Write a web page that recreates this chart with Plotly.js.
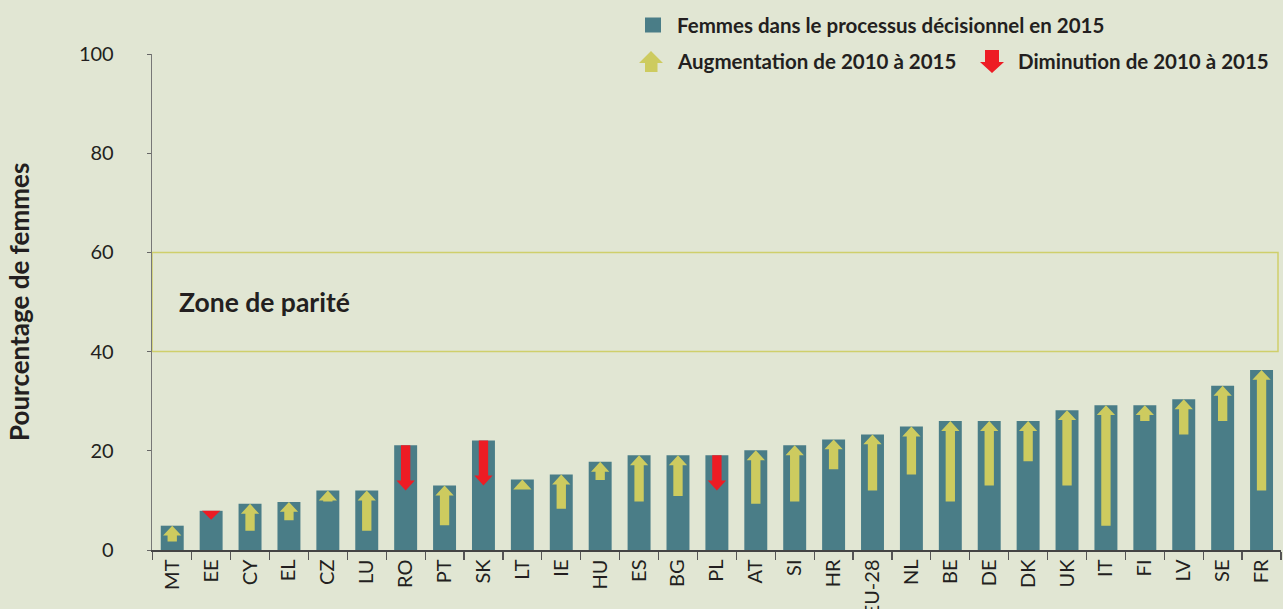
<!DOCTYPE html>
<html>
<head>
<meta charset="utf-8">
<script src="https://cdn.plot.ly/plotly-3.0.1.min.js"></script>
<style>
  html, body { margin: 0; padding: 0; background: #e1e6d3; }
  #chart { width: 1283px; height: 609px; }
</style>
</head>
<body>
<div id="chart"></div>
<script>
// ---- Data ----
const categories = ['MT','EE','CY','EL','CZ','LU','RO','PT','SK','LT','IE','HU','ES','BG','PL','AT','SI','HR','EU-28','NL','BE','DE','DK','UK','IT','FI','LV','SE','FR'];
const women2015 = [4.9,7.9,9.3,9.7,12.0,12.0,21.1,13.0,22.1,14.2,15.2,17.8,19.1,19.1,19.1,20.1,21.1,22.3,23.3,24.9,26.0,26.0,26.0,28.2,29.2,29.2,30.4,33.1,36.3];
const arrowOtherEnd = [1.7,6.1,3.9,6.0,9.8,3.9,12.0,5.0,13.0,12.2,8.3,14.1,9.8,10.9,12.0,9.3,9.8,16.3,12.0,15.2,9.8,13.0,17.9,13.0,4.9,26.0,23.3,26.0,12.0];
const trend = ['up','down','up','up','up','up','down','up','down','up','up','up','up','up','down','up','up','up','up','up','up','up','up','up','up','up','up','up','up'];
const yTicks = [0,20,40,60,80,100];
const parityZone = [40, 60];
const legendLabels = ['Femmes dans le processus décisionnel en 2015','Augmentation de 2010 à 2015','Diminution de 2010 à 2015'];
const yTitle = 'Pourcentage de femmes';
const zoneLabel = 'Zone de parité';

// ---- Style ----
const BG = '#e1e6d3', TEAL = '#4a7d87', YEL = '#cdcb5f', RED = '#ed1c24', TXT = '#231f20';
const FONT = 'Lato, "Open Sans", sans-serif';
const M = {l: 152, r: 2, t: 54, b: 59};
const W = 1283, H = 609;
const PW = W - M.l - M.r, PH = H - M.t - M.b;
const px2x = p => (p - M.l) / PW;
const px2y = p => (H - M.b - p) / PH;

// arrow geometry (category units / data units)
const SHAFT = 0.12, HEAD = 0.235, HEADH = 2.0;

function arrowPath(i, from, to) {
  const dir = to > from ? 1 : -1;
  const len = Math.abs(to - from);
  const hh = Math.min(HEADH, len);
  const base = to - dir * hh;
  if (len <= HEADH) {
    return `M${i-HEAD},${from} L${i+HEAD},${from} L${i},${to} Z`;
  }
  return `M${i-SHAFT},${from} L${i+SHAFT},${from} L${i+SHAFT},${base} L${i+HEAD},${base} L${i},${to} L${i-HEAD},${base} L${i-SHAFT},${base} Z`;
}

const shapes = [];
shapes.push({type:'rect', xref:'paper', yref:'y', x0:0, x1:px2x(1278), y0:parityZone[0], y1:parityZone[1],
  line:{color:'#cfcf6b', width:1.5}, fillcolor:'rgba(0,0,0,0)', layer:'below'});

categories.forEach((c, i) => {
  let path, col;
  if (trend[i] === 'up') { path = arrowPath(i, arrowOtherEnd[i], women2015[i]); col = YEL; }
  else { path = arrowPath(i, women2015[i], arrowOtherEnd[i]); col = RED; }
  shapes.push({type:'path', xref:'x', yref:'y', path, fillcolor:col, line:{width:0}, layer:'above'});
});

// legend glyphs (paper coords from pixel positions)
const P = (x, y) => `${px2x(x)},${px2y(y)}`;
shapes.push({type:'rect', xref:'paper', yref:'paper', x0:px2x(645), x1:px2x(661), y0:px2y(32.5), y1:px2y(17.5),
  fillcolor:TEAL, line:{width:0}});
shapes.push({type:'path', xref:'paper', yref:'paper', fillcolor:YEL, line:{width:0},
  path:`M${P(645,72)} L${P(657.5,72)} L${P(657.5,63)} L${P(663,63)} L${P(651,51)} L${P(639,63)} L${P(645,63)} Z`});
shapes.push({type:'path', xref:'paper', yref:'paper', fillcolor:RED, line:{width:0},
  path:`M${P(985,50)} L${P(999,50)} L${P(999,62)} L${P(1004,62)} L${P(992,73)} L${P(980,62)} L${P(985,62)} Z`});

const annotations = [
  {xref:'paper', yref:'y', x:px2x(177), y:(parityZone[0]+parityZone[1])/2, xanchor:'left', yanchor:'middle',
   text:'<b>'+zoneLabel+'</b>', showarrow:false, font:{family:FONT, size:26.5, color:TXT}},
  {xref:'paper', yref:'paper', x:px2x(19), y:0.5, xanchor:'center', yanchor:'middle', textangle:-90,
   text:'<b>'+yTitle+'</b>', showarrow:false, font:{family:FONT, size:26, color:TXT}},
  {xref:'paper', yref:'paper', x:px2x(675), y:px2y(25), xanchor:'left', yanchor:'middle',
   text:'<b>'+legendLabels[0]+'</b>', showarrow:false, font:{family:FONT, size:20.5, color:TXT}},
  {xref:'paper', yref:'paper', x:px2x(675), y:px2y(61), xanchor:'left', yanchor:'middle',
   text:'<b>'+legendLabels[1]+'</b>', showarrow:false, font:{family:FONT, size:20.5, color:TXT}},
  {xref:'paper', yref:'paper', x:px2x(1016), y:px2y(61), xanchor:'left', yanchor:'middle',
   text:'<b>'+legendLabels[2]+'</b>', showarrow:false, font:{family:FONT, size:20.5, color:TXT}}
];

const trace = {
  type:'bar', x:categories, y:women2015, marker:{color:TEAL, line:{width:0}},
  hoverinfo:'x+y', showlegend:false
};

const layout = {
  width:W, height:H, margin:M,
  paper_bgcolor:BG, plot_bgcolor:BG,
  bargap:0.41, showlegend:false,
  font:{family:FONT, color:TXT},
  xaxis:{type:'category', range:[-0.52, categories.length-0.5], tickson:'boundaries',
    ticks:'outside', ticklen:8, tickwidth:1.2, tickcolor:'#555', showline:true, linecolor:'#444', linewidth:1.5,
    showgrid:false, zeroline:false, tickangle:-90, tickfont:{family:FONT, size:20, color:TXT}, fixedrange:true},
  yaxis:{range:[0,100], tickvals:yTicks, ticks:'outside', ticklen:4, tickcolor:'#666', tickwidth:1,
    showline:true, linecolor:'#777', linewidth:1.3, showgrid:false, zeroline:false,
    ticklabelstandoff:29, tickfont:{family:FONT, size:20, color:TXT}, fixedrange:true},
  shapes, annotations
};

Plotly.newPlot('chart', [trace], layout, {displayModeBar:false, staticPlot:true});
</script>
</body>
</html>
